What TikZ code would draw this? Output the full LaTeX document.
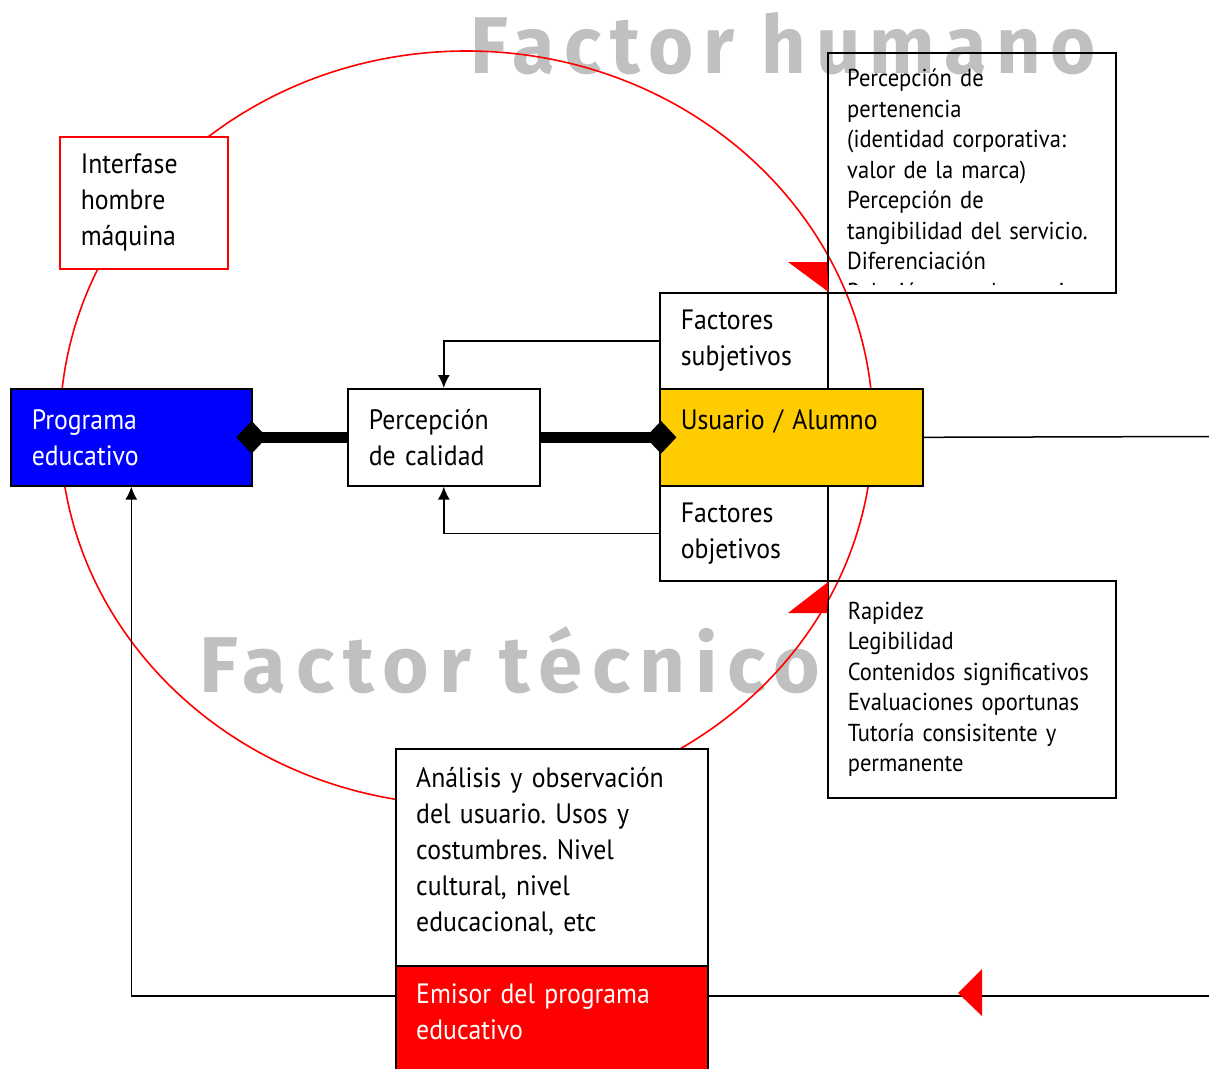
\documentclass[tikz,border=0pt]{standalone}
\usepackage{fontspec}
\setmainfont{PT Sans}[FakeStretch=0.92, WordSpace=0.7]
\newfontfamily\wmfont{Fira Sans}[LetterSpace=12]
\usetikzlibrary{shapes.geometric,arrows.meta,calc}
\definecolor{usrgold}{HTML}{FFCC00}
\definecolor{wmgray}{HTML}{C0C0C0}
\definecolor{progblue}{HTML}{0000FF}
\definecolor{emired}{HTML}{FF0000}
\frenchspacing
\begin{document}
\begin{tikzpicture}[x=1pt,y=-1pt,
  box/.style={draw=black, line width=1.6pt, fill=white, anchor=north west,
    inner xsep=21pt, inner ysep=0pt, align=left, font=\fontsize{28}{36}\selectfont},
  smallbox/.style={box, font=\fontsize{24.5}{30.5}\selectfont, inner xsep=20pt},
  conn/.style={draw=black, line width=1.5pt},
  tipA/.style={-{Latex[length=13pt,width=12pt]}},
  dtip/.style={diamond, fill=black, inner sep=0pt, minimum width=31pt, minimum height=33pt},
  redtri/.style={fill=emired, draw=none},
  wm/.style={anchor=base west, inner sep=0pt, text=wmgray}
]
\useasboundingbox (0,0) rectangle (1209,1068);

% watermarks
\node[wm] (wmh) at (470,73) {\resizebox{625pt}{61pt}{\wmfont\bfseries Factor humano}};
\node[wm] (wmt) at (199,692) {\resizebox{621pt}{66pt}{\wmfont\bfseries Factor t\'ecnico}};

% red ellipse
\draw[emired, line width=1.6pt] (466.5,428) ellipse [x radius=406.5, y radius=377];

% boxes
\node[box, draw=emired, minimum width=168pt, minimum height=132pt, text width=126pt] (inter) at (59,136) {Interfase\\hombre\\máquina};
\node[box, fill=progblue, text=white, minimum width=241pt, minimum height=97pt, text width=199pt] (prog) at (10,388) {Programa\\educativo};
\node[box, minimum width=192pt, minimum height=97pt, text width=150pt] (pcal) at (347,388) {Percepción\\de calidad};
\node[box, fill=usrgold, minimum width=263pt, minimum height=97pt, text width=221pt] (usr) at (659,388) {Usuario / Alumno\\\mbox{}};
\node[box, minimum width=168pt, minimum height=96pt, text width=126pt] (fsub) at (659,292) {Factores\\subjetivos};
\node[box, minimum width=168pt, minimum height=95pt, text width=126pt] (fobj) at (659,485) {Factores\\objetivos};
\node[box, fill=none, minimum width=288pt, minimum height=240pt] (pp) at (827,52) {};
\node[smallbox, fill=none, minimum width=288pt, minimum height=217pt, text width=248pt] (rap) at (827,580) {Rapidez\\Legibilidad\\Contenidos significativos\\Evaluaciones oportunas\\Tutoría consisitente y\\permanente};
\node[box, minimum width=312pt, minimum height=217pt] (ana) at (395,748) {};
\node[anchor=north west, inner sep=0pt, align=left, font=\fontsize{28}{36}\selectfont, text width=280pt] (anatxt) at ($(ana.north west)+(21,19)$) {Análisis y observación\\del usuario. Usos y\\costumbres. Nivel\\cultural, nivel\\educacional, etc};
\node[box, fill=emired, minimum width=312pt, minimum height=125pt] (emi) at (395,965) {};
\node[anchor=north west, inner sep=0pt, text=white, align=left, font=\fontsize{28}{36}\selectfont, text width=280pt] (emitxt) at ($(emi.north west)+(21,18)$) {Emisor del programa\\educativo};

% clipped text of the upper right box
\begin{scope}
  \clip (pp.north west) rectangle ($(pp.south east)+(0,-9)$);
  \node[anchor=north west, inner sep=0pt, align=left, font=\fontsize{24.5}{30.5}\selectfont, text width=265pt] (pptxt) at ($(pp.north west)+(20,17)$) {Percepción de\\pertenencia\\(identidad corporativa:\\valor de la marca)\\Percepción de\\tangibilidad del servicio.\\Diferenciación\\Relación con el usuario};
\end{scope}

% thick links with diamonds
\draw[line width=11pt] (prog.east) -- (pcal.west);
\draw[line width=11pt] (pcal.east) -- (usr.west);
\node[dtip] (d1) at ($(prog.east)+(-1,0)$) {};
\node[dtip] (d2) at ($(usr.west)+(2,0)$) {};

% connectors
\draw[conn, tipA] (fsub.west) -| (pcal.north);
\draw[conn, tipA] (fobj.west) -| (pcal.south);
\coordinate (emiL) at ($(emi.north west)+(0,31)$);
\coordinate (emiR) at ($(emi.north east)+(0,31)$);
\coordinate (rightA) at (1209,436.5);
\coordinate (rightB) at (1209,996);
\draw[conn, tipA] (emiL) -| (prog.south);
\draw[conn] (usr.east) -- (rightA);
\draw[conn] (rightB) -- (emiR);

% red triangles
\fill[redtri] (788,262) -- (827,262) -- (fsub.north east) ++(0,6) -- cycle;
\fill[redtri] (788,613) -- (fobj.south east) -- (827,613) -- cycle;
\fill[redtri] (958,993) -- (982,969) -- (982,1016) -- cycle;
\end{tikzpicture}
\end{document}
